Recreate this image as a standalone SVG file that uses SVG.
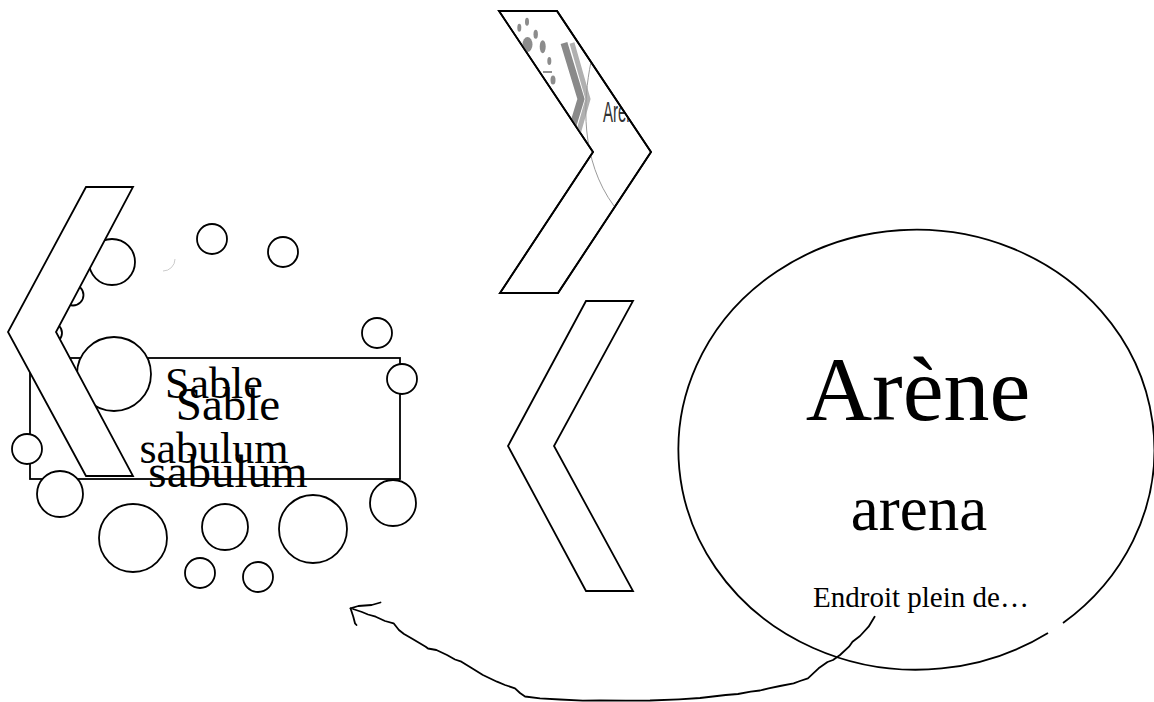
<svg xmlns="http://www.w3.org/2000/svg" width="1154" height="702" viewBox="0 0 1154 702">
<style>
.shape{fill:#fff;stroke:#000;stroke-width:1.8;stroke-linejoin:miter}
.bub{fill:#fff;stroke:#000;stroke-width:1.8}
.serif{font-family:"Liberation Serif","Times New Roman",serif;fill:#000}
.conn{fill:none;stroke:#000;stroke-width:1.8;stroke-linejoin:round;stroke-linecap:round}
.paw{fill:#8c8c8c}
</style>
<defs>
<clipPath id="chevClip"><polygon points="499,11 557,11 651,152 558,293 500,293 593,152"/></clipPath>
</defs>
<rect width="1154" height="702" fill="#fff"/>

<g id="sand-cluster">
<rect id="sand-box" class="shape" x="30" y="358" width="370" height="121"/>
<circle class="bub" cx="212" cy="239" r="15"/>
<circle class="bub" cx="283" cy="252" r="15"/>
<circle class="bub" cx="377" cy="333" r="15"/>
<circle class="bub" cx="402" cy="379" r="15"/>
<circle class="bub" cx="112" cy="262" r="23"/>
<circle class="bub" cx="73" cy="295" r="10.5"/>
<circle class="bub" cx="52" cy="333" r="10"/>
<circle class="bub" cx="114" cy="374" r="37"/>
<circle class="bub" cx="27" cy="449" r="15"/>
<circle class="bub" cx="60" cy="494" r="23"/>
<circle class="bub" cx="133" cy="538" r="34"/>
<circle class="bub" cx="225" cy="527" r="23"/>
<circle class="bub" cx="313" cy="529" r="34"/>
<circle class="bub" cx="393" cy="503" r="23"/>
<circle class="bub" cx="200" cy="573" r="15"/>
<circle class="bub" cx="258" cy="577" r="15"/>
<path d="M175,259 A12,12 0 0 1 163,271" fill="none" stroke="#b5b5b5" stroke-width="0.7"/>
<text class="serif" x="214" y="398" font-size="44" text-anchor="middle">Sable</text>
<text class="serif" x="228" y="420" font-size="47" text-anchor="middle">Sable</text>
<text class="serif" x="214" y="463" font-size="44" text-anchor="middle">sabulum</text>
<text class="serif" x="228" y="487" font-size="47" text-anchor="middle">sabulum</text>
</g>

<g id="chevron-left">
<polygon class="shape" points="86,187 133,187 56,332 133,476 86,476 8,332"/>
</g>

<g id="chevron-top">
<polygon class="shape" points="499,11 557,11 651,152 558,293 500,293 593,152"/>
<g clip-path="url(#chevClip)">
<ellipse class="paw" cx="519.3" cy="27.7" rx="2" ry="4"/>
<ellipse class="paw" cx="527" cy="21.7" rx="2" ry="4"/>
<ellipse class="paw" cx="535.7" cy="34.3" rx="2.2" ry="4.5"/>
<ellipse class="paw" cx="542.7" cy="46.7" rx="3" ry="6.5"/>
<ellipse class="paw" cx="549.3" cy="61" rx="2" ry="4"/>
<ellipse class="paw" cx="527.5" cy="44.5" rx="5" ry="7.5"/>
<ellipse class="paw" cx="553" cy="80" rx="2.5" ry="4.5"/>
<line x1="543" y1="72" x2="552" y2="72" stroke="#222" stroke-width="1.2"/>
<polyline points="564,43 581,99 564,155" fill="none" stroke="#8a8a8a" stroke-width="7"/>
<polyline points="572,43 588,99 572,155" fill="none" stroke="#b0b0b0" stroke-width="5"/>
<path d="M591,62 C583,100 580,160 614,206" fill="none" stroke="#9a9a9a" stroke-width="1"/>
<text transform="translate(603,122) scale(0.5,1)" font-family="Liberation Sans, Arial, sans-serif" font-size="30" fill="#333">Arène</text>
</g>
<polygon points="499,11 557,11 651,152 558,293 500,293 593,152" fill="none" stroke="#000" stroke-width="1.8"/>
</g>

<g id="chevron-middle">
<polygon class="shape" points="586,301 633,301 554,446 633,591 586,591 508,446"/>
</g>

<g id="arena">
<path d="M1063,623 A238,220 0 1 0 1048,633" fill="#fff" stroke="#000" stroke-width="1.8"/>
<text class="serif" x="918" y="420" font-size="92" text-anchor="middle">Arène</text>
<text class="serif" x="919" y="530" font-size="63" text-anchor="middle">arena</text>
<text class="serif" x="921" y="607" font-size="29" text-anchor="middle">Endroit plein de…</text>
</g>

<g id="connectors">
<path class="conn" d="M874.6,616.7 L868.6,626.7 L860,636 L852.5,641.7 L849,646.7 L840,655 L833,660 L827.5,662 L818.6,668.3 L807.9,678.3 L800,681 L793.6,683.3 L780,686 L768.6,688.3 L760,690.5 L750.7,691.7 L738,694 L725.7,695 L700,698 L679,699.3 L650,700.5 L625.7,700.7 L600,700.5 L582.9,700.7 L560,699.5 L540,698.3 L525,696.5 L520,693 L515,688.3 L505,685 L497,681.7 L482.9,675 L472,668.3 L461.4,661.7 L455,659.5 L447,655 L436.4,650 L428,648.5 L425.7,646.7 L411.4,638.3 L404,634 L398.9,630 L393.6,623.3 L385,621 L375.7,616.7 L368,614.5 L362,612 L353,609"/>
<path class="conn" d="M350.5,608.3 L358.3,606 L371.7,605 L380.5,602.5"/>
<path class="conn" d="M350.5,608.3 L353.3,616.7 L355,623.3 L356.5,625" stroke-width="2.6"/>
</g>
</svg>
